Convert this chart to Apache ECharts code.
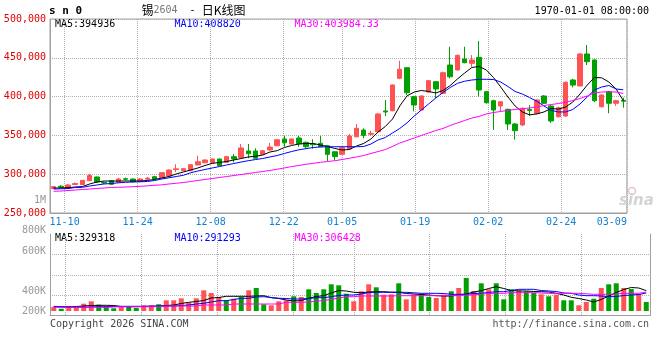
<!DOCTYPE html>
<html><head><meta charset="utf-8">
<script src="https://cdn.jsdelivr.net/npm/echarts@6/dist/echarts.min.js"></script>
<style>html,body{margin:0;padding:0;background:#fff}#c{width:660px;height:360px}</style>
</head><body><div id="c"></div>
<script>
const dates = ['11-06','11-07','11-10','11-11','11-12','11-13','11-14','11-17','11-18','11-19',
'11-20','11-21','11-24','11-25','11-26','11-27','11-28','12-01','12-02','12-03',
'12-04','12-05','12-08','12-09','12-10','12-11','12-12','12-15','12-16','12-17',
'12-18','12-19','12-22','12-23','12-24','12-25','12-26','12-29','12-30','12-31',
'01-05','01-06','01-07','01-08','01-09','01-12','01-13','01-14','01-15','01-16',
'01-19','01-20','01-21','01-22','01-23','01-26','01-27','01-28','01-29','01-30',
'02-02','02-03','02-04','02-05','02-06','02-09','02-10','02-11','02-12','02-13',
'02-24','02-25','02-26','02-27','03-02','03-03','03-04','03-05','03-06','03-09'];

const opens = [281600,284400,282200,286700,286700,291600,296400,289500,291600,289500,
294200,293800,290800,293600,296800,295500,297700,306000,304500,304500,
311900,314800,314800,319600,315300,322600,321300,329900,329900,325600,
331200,336700,345400,338900,346600,341100,338900,339900,336700,328900,
325600,332500,348300,356900,351400,354800,381500,381800,423600,437200,
399900,382700,405900,419200,404200,440700,434300,448500,442900,450600,
406300,394700,387900,383600,364700,363400,383300,378500,400800,387900,
374100,375000,421400,413700,454900,447200,387000,406300,391400,395100];
const closes = [283900,283100,286100,288000,292100,298300,289900,288600,287000,293800,
293400,290300,293800,294900,293800,302000,305400,306900,307100,312200,
316100,318300,319600,311000,322600,319600,333800,326400,320500,330300,
335000,344400,340600,345400,339300,335400,338000,335400,325600,322600,
334100,349200,359100,350100,352700,377600,380200,415000,435200,405000,
389200,400800,420500,409800,430800,425600,453200,443700,447200,408500,
392100,382700,393400,364700,356100,384900,382100,395600,391400,368600,
385700,418400,414900,454900,445000,394700,402100,391400,394700,394000];
const lows = [281000,282200,281600,286100,286500,291200,288600,287400,286100,289000,
291900,289500,290000,292500,293000,294500,297000,302800,304000,303800,
311500,314000,314300,310500,314500,315300,320800,320500,320000,325000,
330500,336000,335400,338000,335400,333500,332800,335000,317000,318300,
325000,331800,347500,346300,349200,354000,375000,381000,422500,402000,
381000,382000,405000,398000,403500,423600,433500,443000,438500,399900,
391000,357000,380500,357000,344700,362000,375000,377000,390500,366000,
373000,374000,412000,413000,440700,393000,386000,378500,388000,385700];
const highs = [284500,286100,287400,289300,292500,300600,297000,290600,292500,295500,
295700,294500,295000,296500,298000,302500,306000,312800,308000,313000,
323800,319000,320500,320000,323800,326000,338900,338900,333400,331000,
340200,345000,349200,346000,349200,342000,345000,349200,337500,329500,
335000,351800,364700,359100,356000,378500,395600,415500,446300,438000,
401000,401500,421500,420000,432000,464300,454000,464300,453600,471700,
407000,396000,394000,384500,366000,386000,389200,396500,402000,389000,
387000,419500,423000,456000,466500,448000,403000,407500,396000,398600];

const ma5 = [282200,282200,282600,283500,284100,287400,289900,291200,291200,291200,
291200,291200,291200,291900,293200,295100,297000,300300,302800,305400,
308000,311200,314000,315100,316400,318300,320200,322200,323100,324700,
328600,330300,334400,337000,338900,339600,339600,337600,335700,333100,
331200,331800,336300,339600,345400,354400,361500,371100,387900,400800,
405900,407900,406600,404600,407900,414300,422700,430400,437500,438800,
434300,424600,412400,399500,387900,380200,376500,377600,380200,384700,
383800,386600,393000,403300,414900,424600,424200,418800,409800,394900];
const ma10 = [280900,281200,281600,282900,283100,284800,286100,287400,288000,288900,
289600,290000,290200,290600,291900,293800,295400,297000,298600,301800,
304100,306100,308000,309900,311900,313800,315700,317400,318900,320200,
322200,324100,326700,329200,331400,332900,334400,335100,335300,335400,
335400,335400,335400,335700,338900,344100,347300,353100,358900,366000,
375000,382700,390500,398200,405300,411700,417100,419800,421400,422200,
422300,422000,418800,413000,406600,403300,398800,394000,387900,382300,
380200,380200,383400,390500,399500,408500,412400,414300,409800,408800];
const ma30 = [278000,278300,279000,279600,280300,280900,281600,282200,282900,283200,
283500,283900,284400,285000,285700,286300,287400,288300,289300,290600,
291900,293200,294500,295700,297000,298300,299600,300900,302200,303500,
304800,306400,308000,309900,311200,312800,314000,315300,316400,317400,
318900,320500,322200,324100,326700,329200,331800,335700,340200,343400,
346600,349900,353100,356300,358900,362800,366000,369200,372400,374400,
377600,379500,380800,382300,383400,384400,385300,386600,388500,389800,
391100,392700,395000,397500,400800,404600,405900,406200,405900,404000];

const volumes = [64800,37300,81000,53500,118300,157100,102100,76100,43700,64800,
64800,48600,92300,92300,108500,173300,173300,205700,134500,205700,
335300,291600,226800,173300,199300,226800,335300,372600,108500,92300,
157100,173300,238100,226800,351500,291600,351500,432500,416300,280300,
157100,319100,432500,383900,264100,270500,448700,189500,264100,280300,
226800,210600,264100,319100,372600,534600,324000,448700,351500,448700,
189500,351500,335300,319100,291600,270500,238100,264100,173300,173300,
92300,145800,199300,372600,432500,448700,372600,356400,275400,145800];
const volMa5 = [72900,69700,64800,72900,81000,89100,92300,92300,89100,72900,
69700,69700,72900,76100,76100,89100,97200,121500,140900,153900,
170100,210600,218700,238100,238100,238100,238100,243000,247900,215500,
202500,178200,162000,170100,205700,234900,247900,291600,332100,324000,
302900,296500,307800,312700,312700,304600,302900,283500,275400,267300,
259200,247900,243000,243000,259200,275400,307800,328900,364500,393700,
364500,332100,324000,324000,315900,312700,307800,286700,259200,221900,
202500,178200,145800,186300,243000,299700,348300,380700,372600,329300];
const volMa10 = [76100,68000,59900,59900,61600,64800,69700,69700,72900,76100,
76100,76100,76100,77800,81000,81000,81000,89100,97200,113400,
124700,145800,166900,166900,186300,205700,205700,226800,231700,218700,
205700,202500,194400,194400,202500,215500,215500,231700,251100,259200,
259200,275400,299700,302900,302900,302900,302900,302900,294800,286700,
286700,286700,283500,270500,270500,270500,283500,286700,299700,312700,
312700,332100,351500,351500,351500,332100,324000,315900,291600,286700,
259200,247900,247900,243000,231700,234900,251100,259200,267300,291300];
const volMa30 = [59900,59900,59900,59900,59900,59900,59900,59900,64800,69700,
69700,69700,69700,69700,69700,81000,81000,81000,81000,81000,
97200,97200,97200,97200,113400,113400,113400,113400,113400,113400,
113400,140900,140900,140900,145800,157100,170100,186300,210600,231700,
231700,243000,243000,243000,243000,243000,247900,247900,247900,247900,
247900,247900,247900,247900,251100,259200,259200,275400,283500,286700,
286700,296500,296500,296500,296500,291600,286700,286700,286700,286700,
286700,278600,270500,270500,270500,275400,286700,286700,286700,306400];

const labelDates = ['11-10','11-24','12-08','12-22','01-05','01-19','02-02','02-24','03-09'];
const priceMin = 250000, priceMax = 500000, priceStep = 50000;
const volMax = 1247400;
const volTickLabels = ['1M','800K','600K','400K','200K'];
const priceLegend = ['MA5:394936','MA10:408820','MA30:403984.33'];
const volLegend = ['MA5:329318','MA10:291293','MA30:306428'];
const titleParts = ['锡','2604','  - ','日K线图'];
const timeText = '1970-01-01 08:00:00';
const headText = 's n 0';
const footLeft = 'Copyright 2026 SINA.COM';
const footRight = 'http://finance.sina.com.cn';

// ---- styles ----
const UP = '#ff5252', DOWN = '#00a000';
const MA_COLORS = ['#000000', '#0000ff', '#ff00ff'];
const GRIDC = '#b0b0b0', BORDER = '#a0a0a0';
const MONO = '"DejaVu Sans Mono", "Liberation Mono", monospace';
const volTickY = [200, 230, 251, 291, 311];
const legendX = [55, 174.5, 294.5];

const isLabelDate = (i, v) => labelDates.indexOf(v) >= 0;
const lastLabel = labelDates[labelDates.length - 1];

const chart = echarts.init(document.getElementById('c'), null, {renderer: 'canvas'});

const graphics = [];
graphics.push({type: 'text', x: 49, y: 11, style: {text: headText, font: 'bold 11px ' + MONO, fill: '#000', verticalAlign: 'middle'}});
graphics.push({type: 'text', x: 141.5, y: 10.5, style: {
  text: '{a|' + titleParts[0] + '}{b|' + titleParts[1] + '}{d|' + titleParts[2] + '}{a|' + titleParts[3] + '}',
  verticalAlign: 'middle',
  rich: {
    a: {font: '12px "Noto Sans CJK SC"', fill: '#000'},
    b: {font: '10px ' + MONO, fill: '#777'},
    d: {font: '10px ' + MONO, fill: '#000'}
  }}});
graphics.push({type: 'text', x: 649, y: 11.5, style: {text: timeText, font: '10px ' + MONO, fill: '#000', align: 'right', verticalAlign: 'middle'}});
priceLegend.forEach((t, k) => graphics.push({type: 'text', x: legendX[k], y: 24, style: {text: t, font: '10px ' + MONO, fill: MA_COLORS[k], verticalAlign: 'middle'}}));
volLegend.forEach((t, k) => graphics.push({type: 'text', x: legendX[k], y: 238.5, style: {text: t, font: '10px ' + MONO, fill: MA_COLORS[k], verticalAlign: 'middle'}}));
volTickLabels.forEach((t, k) => graphics.push({type: 'text', x: 46, y: volTickY[k], style: {text: t, font: '10px ' + MONO, fill: '#999', align: 'right', verticalAlign: 'middle'}}));
graphics.push({type: 'text', x: 50, y: 324, style: {text: footLeft, font: '10px ' + MONO, fill: '#444', verticalAlign: 'middle'}});
graphics.push({type: 'text', x: 649, y: 324, style: {text: footRight, font: '10px ' + MONO, fill: '#555', align: 'right', verticalAlign: 'middle'}});
graphics.push({type: 'circle', shape: {cx: 632, cy: 191, r: 3.5}, style: {fill: 'none', stroke: '#e6c6c6', lineWidth: 1.5}, z: 0});
graphics.push({type: 'text', x: 619, y: 201, style: {text: 'sina', font: 'italic bold 15px "DejaVu Sans"', fill: '#d4d4d4', verticalAlign: 'middle'}, z: 0});

const maSeries = (name, data, color, xi, yi) => ({
  name, type: 'line', data, xAxisIndex: xi, yAxisIndex: yi, symbol: 'none', smooth: false,
  lineStyle: {color, width: 1}, itemStyle: {color}, z: 5, silent: true
});

const option = {
  animation: false,
  backgroundColor: '#fff',
  grid: [
    {left: 50, top: 19, width: 600, height: 194, show: true, borderColor: BORDER, borderWidth: 1},
    {left: 50, top: 234, width: 600, height: 77, show: false},
    {left: 50, top: 234, width: 600, height: 81.5, show: false}
  ],
  xAxis: [
    {type: 'category', gridIndex: 0, data: dates, boundaryGap: true, show: false},
    {type: 'category', gridIndex: 0, data: dates, boundaryGap: false, position: 'bottom',
      axisLine: {show: true, lineStyle: {color: BORDER}}, axisTick: {show: false},
      axisLabel: {interval: isLabelDate, color: '#1480d0', fontFamily: MONO, fontSize: 10, margin: 4,
        formatter: v => v === lastLabel ? v + '     ' : v},
      splitLine: {show: true, interval: isLabelDate, lineStyle: {color: GRIDC, type: 'dotted', width: 1}}},
    {type: 'category', gridIndex: 1, data: dates, boundaryGap: true, show: false},
    {type: 'category', gridIndex: 2, data: dates, boundaryGap: false, position: 'top',
      axisLine: {show: true, lineStyle: {color: BORDER}}, axisTick: {show: false}, axisLabel: {show: false},
      splitLine: {show: true, interval: isLabelDate, lineStyle: {color: GRIDC, type: 'dotted', width: 1}}}
  ],
  yAxis: [
    {type: 'value', gridIndex: 0, min: priceMin, max: priceMax, interval: priceStep, position: 'left',
      axisLine: {show: true, lineStyle: {color: BORDER}}, axisTick: {show: false},
      axisLabel: {color: '#e00000', fontFamily: MONO, fontSize: 10, margin: 4, padding: [0, 0, 3, 0]},
      splitLine: {show: true, lineStyle: {color: GRIDC, type: 'dotted', width: 1}}},
    {type: 'value', gridIndex: 1, min: 0, max: volMax, show: false},
    {type: 'value', gridIndex: 2, min: 0, max: 4, interval: 1, position: 'left',
      axisLine: {show: true, lineStyle: {color: BORDER}}, axisTick: {show: false}, axisLabel: {show: false},
      splitLine: {show: true, showMinLine: false, showMaxLine: false, lineStyle: {color: GRIDC, type: 'dotted', width: 1}}},
    {type: 'value', gridIndex: 2, min: 0, max: 4, interval: 1, position: 'right',
      axisLine: {show: true, lineStyle: {color: BORDER}}, axisTick: {show: false}, axisLabel: {show: false},
      splitLine: {show: false}}
  ],
  series: [
    {type: 'candlestick', xAxisIndex: 0, yAxisIndex: 0, barWidth: 5,
      data: dates.map((d, i) => [opens[i], closes[i], lows[i], highs[i]]),
      itemStyle: {color: UP, color0: DOWN, borderColor: UP, borderColor0: DOWN, borderWidth: 1}, z: 3},
    maSeries('MA5', ma5, MA_COLORS[0], 0, 0),
    maSeries('MA10', ma10, MA_COLORS[1], 0, 0),
    maSeries('MA30', ma30, MA_COLORS[2], 0, 0),
    {type: 'bar', xAxisIndex: 2, yAxisIndex: 1, barWidth: 5,
      data: volumes.map((v, i) => ({value: v, itemStyle: {color: closes[i] >= opens[i] ? UP : DOWN}})), z: 3},
    maSeries('VMA5', volMa5, MA_COLORS[0], 2, 1),
    maSeries('VMA10', volMa10, MA_COLORS[1], 2, 1),
    maSeries('VMA30', volMa30, MA_COLORS[2], 2, 1)
  ],
  graphic: graphics
};
chart.setOption(option);
</script>
</body></html>
